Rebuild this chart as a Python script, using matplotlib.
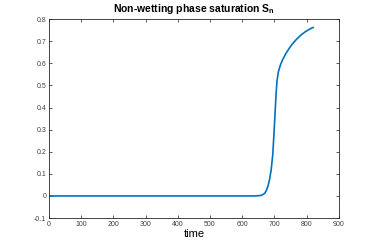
import matplotlib
matplotlib.use("Agg")
import matplotlib.pyplot as plt

plt.rcParams["font.family"] = ["Liberation Sans", "DejaVu Sans"]
plt.rcParams["mathtext.fontset"] = "custom"
plt.rcParams["mathtext.rm"] = "Liberation Sans:bold"
plt.rcParams["mathtext.bf"] = "Liberation Sans:bold"

# time samples and non-wetting saturation
time = [0, 100, 200, 300, 400, 500, 600, 640, 650, 660, 670, 675, 680, 685,
        690, 695, 700, 705, 708, 712, 718, 725, 735, 745, 755, 765, 775, 785,
        795, 805, 815, 820]
sat_n = [0, 0, 0, 0, 0, 0, 0, 0, 0.001, 0.003, 0.012, 0.025, 0.045, 0.075,
         0.12, 0.19, 0.32, 0.46, 0.52, 0.56, 0.59, 0.615, 0.643, 0.666, 0.686,
         0.703, 0.718, 0.731, 0.742, 0.751, 0.759, 0.762]

xticks = list(range(0, 1000, 100))
yticks = [-0.1, 0, 0.1, 0.2, 0.3, 0.4, 0.5, 0.6, 0.7, 0.8]

fig = plt.figure(figsize=(3.74, 2.45), dpi=100)
ax = fig.add_axes([0.131, 0.110, 0.775, 0.812])
ax.plot(time, sat_n, color="#0072BD", linewidth=1.2)

ax.set_xlim(0, 900)
ax.set_ylim(-0.1, 0.8)
ax.set_xticks(xticks)
ax.set_yticks(yticks)
ax.set_yticklabels(["-0.1", "0", "0.1", "0.2", "0.3", "0.4", "0.5", "0.6", "0.7", "0.8"])
ax.tick_params(direction="in", top=True, right=True, length=2.5, width=0.6,
               labelsize=5, colors="#404040", pad=2)
for s in ax.spines.values():
    s.set_linewidth(0.6)
    s.set_color("#262626")

ax.set_xlabel("time", fontsize=8, labelpad=1)
ax.set_title("Non-wetting phase saturation S$_\\mathregular{n}$", fontsize=7.5,
             fontweight="bold", pad=5)

fig.savefig("out.png", dpi=100)
